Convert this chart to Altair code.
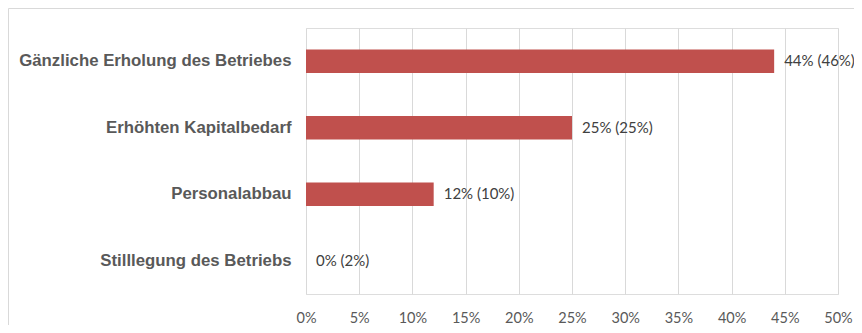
import altair as alt
import pandas as pd

categories = [
    "Gänzliche Erholung des Betriebes",
    "Erhöhten Kapitalbedarf",
    "Personalabbau",
    "Stilllegung des Betriebs",
]
current = [44, 25, 12, 0]
previous = [46, 25, 10, 2]
ticks = [0, 5, 10, 15, 20, 25, 30, 35, 40, 45, 50]

df = pd.DataFrame({
    "cat": categories,
    "val": [v / 100 for v in current],
    "label": [f"{c}% ({p}%)" for c, p in zip(current, previous)],
})

y_enc = alt.Y(
    "cat:N", sort=categories, title=None,
    scale=alt.Scale(paddingInner=0.65, paddingOuter=0.325),
    axis=alt.Axis(domain=False, ticks=False, labelFontSize=16.8, labelFont="Liberation Sans",
                  labelFontWeight="bold", labelColor="#595959", labelPadding=15, labelLimit=400),
)
x_enc = alt.X(
    "val:Q", title=None,
    scale=alt.Scale(domain=[0, 0.5], nice=False),
    axis=alt.Axis(values=[t / 100 for t in ticks], format=".0%", domain=False, ticks=False,
                  grid=True, gridColor="#d9d9d9", gridWidth=1, labelFlush=False,
                  labelOverlap=False,
                  labelFont="Lato", labelFontSize=14.5, labelColor="#595959", labelPadding=17),
)

frame = alt.Chart(pd.DataFrame({"a": [0]})).mark_rect(
    fill=None, stroke="#d9d9d9", strokeWidth=1
).encode(
    x=alt.value(-297.5), y=alt.value(-19.5), x2=alt.value(900), y2=alt.value(500)
)

bars = alt.Chart(df).mark_bar(color="#C0504D").encode(x=x_enc, y=y_enc)

labels = alt.Chart(df).mark_text(
    align="left", baseline="middle", dx=10, font="Lato", fontSize=15, color="#404040"
).encode(x="val:Q", y=alt.Y("cat:N", sort=categories), text="label:N")

chart = alt.layer(frame, bars, labels).properties(
    width=532, height=266,
    autosize=alt.AutoSizeParams(type="none"),
    padding={"left": 298, "top": 20, "right": 16, "bottom": 31},
).configure_view(stroke=None).configure(background="white")

chart.save("out.html", embed_options={"renderer": "svg", "actions": False})
